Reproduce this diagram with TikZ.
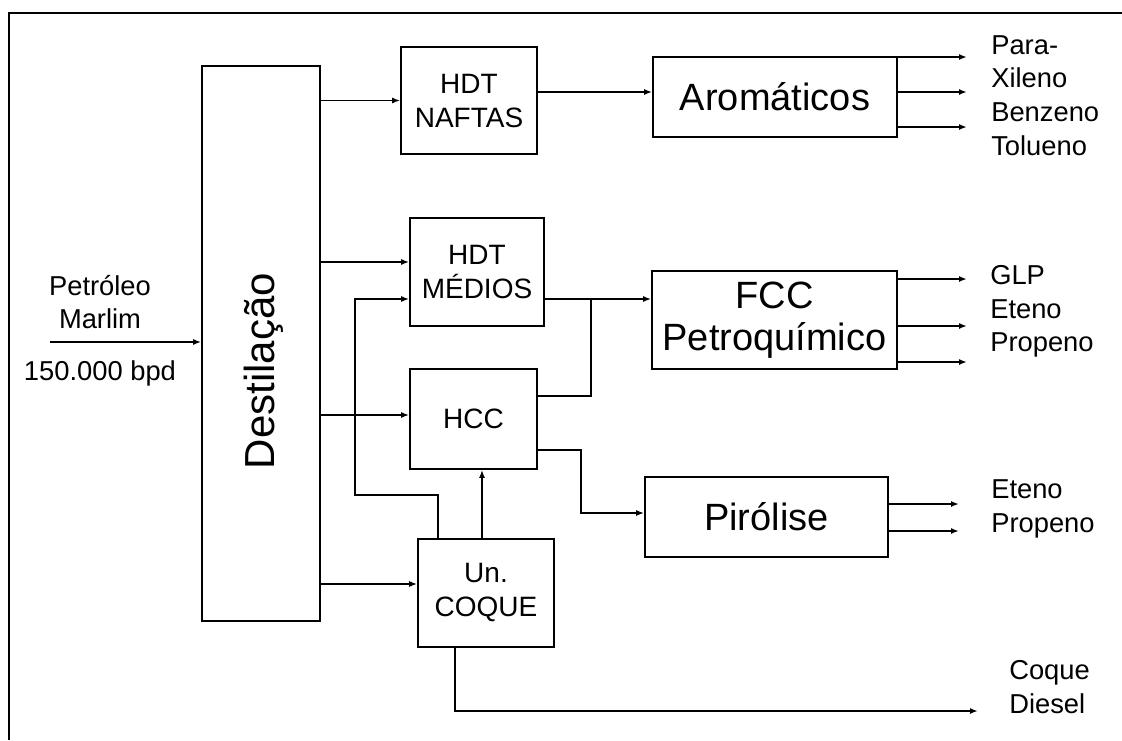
\documentclass[tikz,border=0pt]{standalone}
\usepackage{fontspec}
\setmainfont{Liberation Sans}
\usetikzlibrary{arrows.meta}
\newcommand\boxfont{\fontsize{21}{25.5}\selectfont}
\newcommand\bigboxfont{\fontsize{28.5}{31.5}\selectfont}
\newcommand\prodfont{\fontsize{20.5}{25.3}\selectfont}
\tikzset{
  every picture/.style={line join=miter, >={Latex[length=6pt,width=4.5pt]}},
  unit/.style={draw, line width=1.2pt, inner sep=0pt, align=center, font=\boxfont},
  bigunit/.style={unit, font=\bigboxfont},
  flow/.style={->, line width=1.2pt},
  link/.style={line width=1.2pt},
  prod/.style={align=left, anchor=west, inner sep=0pt, font=\prodfont},
}

\begin{document}
\begin{tikzpicture}[x=0.75pt,y=-0.75pt]
\useasboundingbox (0,0) rectangle (1122,740);
\draw[link] (9,740) -- (9,13) -- (1122,13);

\node[unit, minimum width=88.5pt, minimum height=416.25pt] (dest) at (261,343.5) {};
\node[rotate=90, inner sep=0pt, font=\fontsize{31.5}{36}\selectfont] (destlbl) at (264,371) {Destilação};
\node[unit, minimum width=102pt, minimum height=80.25pt] (naftas) at (469,100.5) {HDT\\NAFTAS};
\node[unit, minimum width=100.5pt, minimum height=81pt] (medios) at (477,272) {HDT\\MÉDIOS};
\node[unit, minimum width=95.25pt, minimum height=75pt] (hcc) at (473.5,419) {HCC};
\node[unit, minimum width=102pt, minimum height=81pt] (coque) at (486,593) {Un.\\COQUE};
\node[bigunit, minimum width=183pt, minimum height=60pt] (aroma) at (775,97) {Aromáticos};
\node[bigunit, minimum width=183.75pt, minimum height=73.5pt] (fcc) at (774.5,320) {FCC\\Petroquímico};
\node[bigunit, minimum width=182.25pt, minimum height=60pt] (piro) at (766.5,517) {Pirólise};

\node[align=center, inner sep=0pt, font=\prodfont] (crude) at (100,302) {Petróleo\\Marlim};
\node[inner sep=0pt, font=\prodfont] (rate) at (100,373) {150.000 bpd};
\coordinate (feed) at (50,342);
\draw[flow] (feed) -- (feed -| dest.west);

\draw[flow] (dest.east |- naftas.west) -- (naftas.west);
\draw[flow] (dest.east |- 0,262) -- (medios.west |- 0,262);
\draw[flow] (dest.east |- 0,415) -- (hcc.west |- 0,415);
\draw[flow] (dest.east |- 0,584) -- (coque.west |- 0,584);
\draw[flow] (naftas.east |- 0,92) -- (aroma.west |- 0,92);

\coordinate (join) at (591,299);
\coordinate (split) at (581,450);
\coordinate (recyc) at (355,495);
\coordinate (coqueout) at (978,711);
\draw[flow] (medios.east |- join) -- (fcc.west |- join);
\draw[link] (hcc.east |- 0,396) -| (join);
\draw[flow] (hcc.east |- split) -- (split) |- (piro.west |- 0,513);
\draw[flow] (coque.north -| 482,0) -- (hcc.south -| 482,0);
\draw[flow] (coque.north -| 438,0) |- (recyc) |- (medios.west |- join);
\draw[flow] (coque.south -| 455,0) |- (coqueout);

\coordinate (aout) at (967,0);
\coordinate (pout) at (959,0);
\foreach \y in {57,92,127}
  \draw[flow] (aroma.east |- 0,\y) -- (aout |- 0,\y);
\foreach \y in {279,326,362}
  \draw[flow] (fcc.east |- 0,\y) -- (aout |- 0,\y);
\foreach \y in {504,531}
  \draw[flow] (piro.east |- 0,\y) -- (pout |- 0,\y);

\node[prod] (aromprod) at (991,95.5) {Para-\\Xileno\\Benzeno\\Tolueno};
\node[prod] (fccprod) at (990,311.5) {GLP\\Eteno\\Propeno};
\node[prod] (piroprod) at (991,509) {Eteno\\Propeno};
\node[prod] (coqprod) at (1009,687) {Coque\\Diesel};
\end{tikzpicture}
\end{document}
